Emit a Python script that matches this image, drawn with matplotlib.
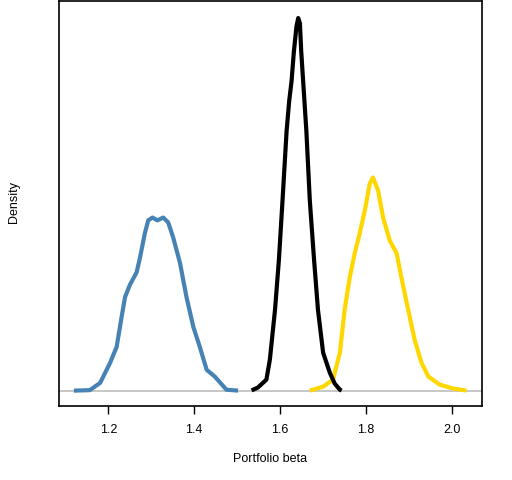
import numpy as np
import matplotlib.pyplot as plt

# density curves (x = portfolio beta, y = density)
blue_x = [1.120, 1.157, 1.181, 1.204, 1.2195, 1.231, 1.239, 1.250, 1.266, 1.274,
          1.285, 1.293, 1.303, 1.314, 1.328, 1.3395, 1.351, 1.367, 1.382, 1.398,
          1.413, 1.429, 1.448, 1.475, 1.502]
blue_y = [0.0, 0.02, 0.33, 1.18, 1.87, 3.15, 4.00, 4.51, 5.06, 5.70,
          6.72, 7.28, 7.40, 7.28, 7.40, 7.19, 6.55, 5.45, 4.00, 2.72,
          1.87, 0.89, 0.60, 0.04, 0.0]

black_x = [1.5335, 1.548, 1.568, 1.576, 1.588, 1.597, 1.6055, 1.615, 1.621, 1.6265,
           1.632, 1.638, 1.642, 1.646, 1.649, 1.6565, 1.661, 1.669, 1.679, 1.688,
           1.700, 1.7155, 1.727, 1.739, 1.743]
black_y = [0.01, 0.13, 0.47, 1.32, 3.45, 5.57, 8.13, 11.10, 12.38, 13.23,
           14.51, 15.57, 15.93, 15.70, 14.51, 12.38, 11.10, 8.13, 5.57, 3.45,
           1.62, 0.77, 0.30, 0.04, 0.0]

gold_x = [1.669, 1.700, 1.723, 1.739, 1.750, 1.762, 1.7735, 1.785, 1.797, 1.8085,
          1.816, 1.828, 1.8395, 1.855, 1.871, 1.882, 1.898, 1.913, 1.929, 1.945,
          1.971, 2.0025, 2.0335]
gold_y = [0.0, 0.17, 0.47, 1.62, 3.45, 4.85, 5.87, 6.72, 7.70, 8.85,
          9.11, 8.55, 7.40, 6.42, 5.87, 4.85, 3.45, 2.17, 1.19, 0.60,
          0.26, 0.09, 0.0]

xticks = [1.2, 1.4, 1.6, 1.8, 2.0]

plt.rcParams['font.family'] = ['Liberation Sans', 'DejaVu Sans']

fig = plt.figure(figsize=(5.12, 4.8), dpi=100)
ax = fig.add_axes([0.1158, 0.155, 0.825, 0.842])

ax.axhline(0, color='#bebebe', linewidth=1.2, zorder=1)
ax.plot(blue_x, blue_y, color='steelblue', linewidth=3, solid_capstyle='butt',
        solid_joinstyle='round', zorder=3)
ax.plot(black_x, black_y, color='black', linewidth=3, solid_capstyle='butt',
        solid_joinstyle='round', zorder=3)
ax.plot(gold_x, gold_y, color='gold', linewidth=3, solid_capstyle='butt',
        solid_joinstyle='round', zorder=2)

ax.set_xlim(1.086, 2.069)
ax.set_ylim(-0.64, 16.64)
ax.set_yticks([])
ax.set_xticks(xticks)
ax.set_xticklabels(['%.1f' % t for t in xticks])
ax.tick_params(axis='x', length=5.4, width=1, pad=8, labelsize=9)

for s in ax.spines.values():
    s.set_linewidth(1.2)

ax.set_xlabel('Portfolio beta', fontsize=9, labelpad=12)
fig.text(0.028, 0.58, 'Density', rotation=90, fontsize=9, ha='center', va='center')

fig.savefig('out.png', dpi=100)
